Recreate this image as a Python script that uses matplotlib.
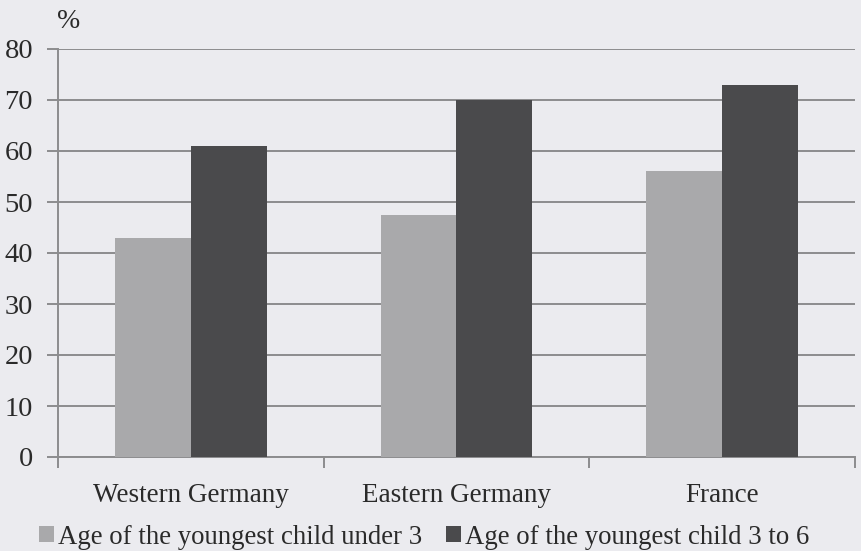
import numpy as np
import matplotlib
matplotlib.use("Agg")
import matplotlib.pyplot as plt
from matplotlib.ticker import FixedLocator

# data
categories = ["Western Germany", "Eastern Germany", "France"]
under_3 = [43, 47.5, 56]
age_3_to_6 = [61, 70, 73]
series_names = ["Age of the youngest child under 3", "Age of the youngest child 3 to 6"]
y_ticks = [0, 10, 20, 30, 40, 50, 60, 70, 80]

bg = "#ebebef"
light = "#a9a9ab"
dark = "#4a4a4c"
grid_col = "#8c8c8e"
text_col = "#2a2a2a"

plt.rcParams['font.family'] = ['Liberation Serif', 'DejaVu Serif']

fig = plt.figure(figsize=(8.61, 5.51), dpi=100, facecolor=bg)
ax = fig.add_axes([58 / 861, 94 / 551, 797 / 861, 408 / 551], facecolor=bg)

x = np.arange(len(categories))
w = 0.286
ax.bar(x - w / 2, under_3, w, color=light, label=series_names[0], zorder=3)
ax.bar(x + w / 2, age_3_to_6, w, color=dark, label=series_names[1], zorder=3)

ax.set_xlim(-0.5, len(categories) - 0.5)
ax.set_ylim(0, 80)
ax.set_yticks(y_ticks)
ax.yaxis.grid(True, color=grid_col, linewidth=1.4, zorder=1)
ax.tick_params(axis='y', length=8, width=1.4, color=grid_col, labelsize=20.5,
               pad=10, labelcolor=text_col)

ax.set_xticks(x)
ax.set_xticklabels(categories)
ax.tick_params(axis='x', length=0, labelsize=19.5, pad=19, labelcolor=text_col)
ax.xaxis.set_minor_locator(FixedLocator(np.arange(-0.5, len(categories), 1.0)))
ax.tick_params(axis='x', which='minor', length=8, width=1.4, color=grid_col)

for s in ["top", "right"]:
    ax.spines[s].set_visible(False)
for s in ["left", "bottom"]:
    ax.spines[s].set_color(grid_col)
    ax.spines[s].set_linewidth(1.4)

fig.text(69 / 861, 1 - 22 / 551, "%", fontsize=20, ha="center", va="center", color=text_col)

fig.legend(loc="lower left", bbox_to_anchor=(30 / 861, -8 / 551), ncol=2, frameon=False,
           fontsize=19.3, handlelength=0.55, handleheight=0.55, handletextpad=0.15,
           columnspacing=0.9, borderaxespad=0.15, borderpad=0.2, labelcolor=text_col)

fig.savefig("out.png", dpi=100, facecolor=bg)
